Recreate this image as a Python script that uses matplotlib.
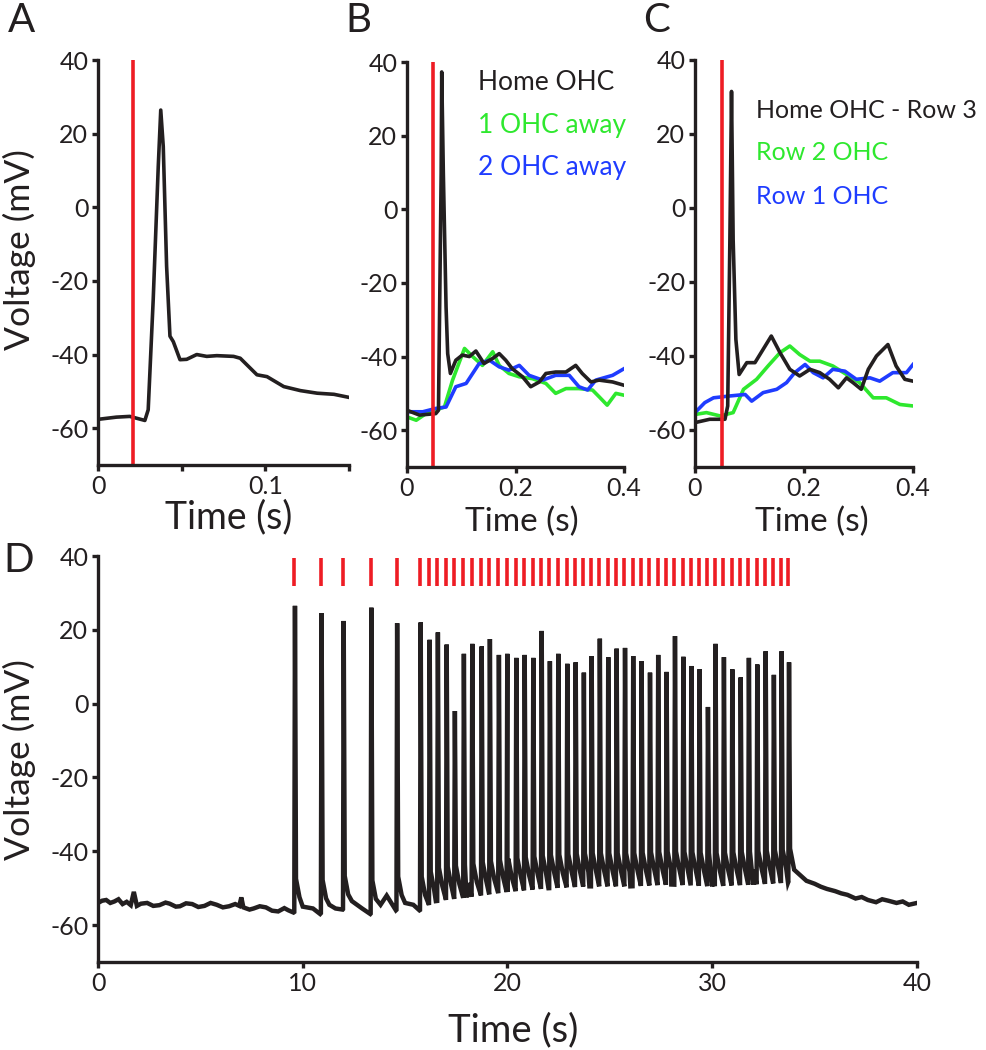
import numpy as np
import matplotlib
matplotlib.use("Agg")
import matplotlib.pyplot as plt

plt.rcParams['font.family'] = ['Lato', 'DejaVu Sans']

BLACK = '#231f20'
RED = '#ee1c24'
GREEN = '#2ee82e'
BLUE = '#1f3cff'

# ---------------- Panel A ----------------
a_t = [0.0, 0.011, 0.019, 0.028, 0.030, 0.033, 0.036, 0.0375, 0.039, 0.041, 0.043, 0.045,
       0.049, 0.053, 0.059, 0.065, 0.071, 0.081, 0.085, 0.095, 0.101, 0.111, 0.121, 0.131,
       0.141, 0.1496]
a_v = [-57.6, -57.0, -56.8, -57.9, -55.0, -25.0, 11.0, 26.4, 16.5, -16.0, -35.0, -36.5,
       -41.4, -41.3, -40.0, -40.5, -40.3, -40.5, -41.0, -45.5, -46.0, -48.7, -49.8, -50.5,
       -50.8, -51.6]
a_stim = 0.021

# ---------------- Panel B ----------------
b_home_t = [0.0, 0.023, 0.053, 0.058, 0.063, 0.064, 0.067, 0.072, 0.075, 0.080, 0.090, 0.102,
            0.115, 0.127, 0.142, 0.158, 0.170, 0.182, 0.194, 0.213, 0.228, 0.244, 0.256, 0.274,
            0.293, 0.311, 0.323, 0.339, 0.354, 0.379, 0.4]
b_home_v = [-54.6, -55.9, -55.5, -54.6, 9.7, 37.3, 9.7, -26.5, -39.2, -44.6, -41.0, -39.6,
            -40.0, -38.5, -41.9, -40.5, -39.2, -41.0, -43.3, -45.5, -48.2, -46.9, -44.6, -44.2,
            -44.2, -42.4, -44.6, -46.9, -46.4, -46.9, -47.8]
b_one_t = [0.0, 0.017, 0.035, 0.069, 0.084, 0.106, 0.121, 0.139, 0.158, 0.170, 0.188, 0.207,
           0.231, 0.256, 0.274, 0.293, 0.317, 0.342, 0.354, 0.369, 0.385, 0.4]
b_one_v = [-56.4, -57.3, -55.5, -53.7, -46.4, -37.8, -40.0, -42.4, -38.7, -42.4, -44.6, -45.5,
           -46.0, -47.3, -50.0, -48.7, -48.7, -49.1, -50.9, -53.2, -50.0, -50.5]
b_two_t = [0.0, 0.029, 0.053, 0.072, 0.090, 0.109, 0.133, 0.152, 0.170, 0.188, 0.207, 0.225,
           0.250, 0.274, 0.299, 0.317, 0.333, 0.348, 0.379, 0.4]
b_two_v = [-55.0, -55.0, -54.1, -53.7, -48.2, -47.3, -41.9, -41.0, -42.8, -43.7, -42.4, -45.1,
           -46.4, -45.1, -45.1, -48.2, -49.1, -46.4, -45.1, -43.3]
b_stim = 0.048
b_labels = ['Home OHC', '1 OHC away', '2 OHC away']

# ---------------- Panel C ----------------
c_home_t = [0.0, 0.027, 0.055, 0.060, 0.064, 0.067, 0.070, 0.075, 0.081, 0.095, 0.110, 0.125,
            0.140, 0.156, 0.174, 0.192, 0.211, 0.229, 0.247, 0.263, 0.278, 0.290, 0.305, 0.318,
            0.333, 0.354, 0.369, 0.385, 0.4]
c_home_v = [-58.0, -57.1, -57.1, -53.5, -8.6, 31.5, -8.6, -35.5, -45.0, -41.8, -41.8, -38.2,
            -34.6, -39.1, -43.6, -45.4, -43.6, -44.5, -46.3, -48.6, -45.9, -47.2, -49.0, -43.6,
            -40.0, -36.9, -42.7, -46.3, -46.8]
c_row2_t = [0.0, 0.021, 0.046, 0.070, 0.089, 0.113, 0.134, 0.156, 0.174, 0.192, 0.211, 0.229,
            0.253, 0.278, 0.302, 0.327, 0.351, 0.376, 0.4]
c_row2_v = [-55.8, -55.3, -56.2, -55.3, -49.0, -46.3, -42.7, -39.1, -37.3, -39.6, -41.4, -41.4,
            -42.7, -45.0, -47.2, -51.3, -51.3, -53.1, -53.5]
c_row1_t = [0.0, 0.018, 0.034, 0.064, 0.092, 0.104, 0.125, 0.150, 0.168, 0.183, 0.202, 0.217,
            0.235, 0.253, 0.275, 0.296, 0.321, 0.339, 0.363, 0.388, 0.4]
c_row1_v = [-55.3, -52.6, -51.3, -50.8, -50.4, -52.2, -49.9, -49.0, -47.2, -44.5, -42.3, -44.5,
            -45.9, -43.6, -44.1, -46.3, -45.9, -46.8, -44.5, -44.5, -42.3]
c_stim = 0.05
c_labels = ['Home OHC - Row 3', 'Row 2 OHC', 'Row 1 OHC']

# ---------------- Panel D ----------------
d_stim = [9.59, 10.89, 11.97, 13.32, 14.58,
          15.73, 16.17, 16.57, 17.00, 17.40, 17.84, 18.25, 18.71, 19.11, 19.55,
          19.96, 20.40, 20.81, 21.23, 21.64, 22.04, 22.45, 22.89, 23.30, 23.70,
          24.08, 24.48, 24.89, 25.30, 25.71, 26.11, 26.52, 26.93, 27.33, 27.74,
          28.15, 28.56, 28.95, 29.35, 29.76, 30.13, 30.54, 30.95, 31.36, 31.76,
          32.17, 32.58, 32.98, 33.36, 33.72]
d_peak = [26.5, 24.5, 22.4, 26.0, 21.8,
          22.0, 17.3, 19.3, 16.0, -2.0, 13.5, 16.2, 15.5, 17.5, 13.2,
          13.5, 12.4, 13.2, 12.4, 19.7, 11.5, 13.5, 10.8, 11.2, 8.4,
          12.9, 17.6, 12.6, 14.9, 15.1, 12.9, 11.5, 8.4, 13.2, 8.6,
          18.3, 12.7, 10.2, 9.3, -0.9, 16.2, 12.6, 9.3, 7.1, 12.4,
          10.6, 14.2, 7.8, 14.2, 11.2]
d_base_t = [0.0, 0.2, 0.4, 0.6, 0.8, 1.0, 1.2, 1.4, 1.6, 1.75, 1.9, 2.1, 2.4, 2.7, 3.0, 3.3,
            3.5, 3.8, 4.0, 4.3, 4.6, 4.9, 5.2, 5.5, 5.8, 6.1, 6.4, 6.7, 6.9, 7.0, 7.1, 7.4,
            7.6, 7.9, 8.2, 8.5, 8.8, 9.1, 9.3, 9.55,
            10.0, 10.5, 10.85, 11.3, 11.6, 11.95, 12.4, 12.9, 13.3, 13.8, 14.1, 14.55, 15.0,
            15.4, 15.7,
            16.5, 18.0, 20.0, 22.0, 24.0, 26.0, 28.0, 30.0, 32.0, 33.7,
            34.0, 34.3, 34.6, 35.0, 35.3, 35.6, 36.0, 36.3, 36.6, 37.0, 37.3, 37.6, 38.0, 38.3,
            38.6, 39.0, 39.3, 39.6, 40.0]
d_base_v = [-54.0, -53.4, -53.2, -54.0, -53.6, -53.0, -54.3, -53.7, -54.6, -51.0, -54.8, -54.2,
            -54.0, -54.8, -54.6, -53.9, -54.2, -55.0, -54.9, -54.1, -54.3, -55.1, -54.8, -54.0,
            -54.5, -55.2, -54.9, -54.3, -54.8, -52.5, -55.2, -55.8, -55.5, -54.9, -55.2, -56.1,
            -56.3, -55.4, -56.0, -56.6,
            -55.0, -55.5, -57.0, -54.5, -55.5, -55.8, -53.5, -55.5, -57.0, -54.5, -52.0, -56.0,
            -54.0, -54.5, -56.0,
            -53.5, -52.5, -51.0, -50.0, -49.5, -49.5, -49.0, -49.5, -49.0, -48.5,
            -45.0, -46.5, -48.0, -48.8, -49.6, -50.2, -50.8, -51.4, -51.8, -52.8, -52.4, -53.2,
            -53.8, -53.0, -53.4, -54.0, -53.6, -54.5, -54.0]
d_latency = 0.03
d_adp = [9.0, 4.0]   # after-potential above local baseline (mV) at +0.08 s and +0.25 s


def style_axes(ax, xlim, ylim, xticks, xlabels, yticks):
    for s in ['top', 'right']:
        ax.spines[s].set_visible(False)
    for s in ['left', 'bottom']:
        ax.spines[s].set_linewidth(2.4)
        ax.spines[s].set_color(BLACK)
        ax.spines[s].set_capstyle('projecting')
    ax.set_xlim(*xlim)
    ax.set_ylim(*ylim)
    ax.set_xticks(xticks)
    ax.set_xticklabels(xlabels)
    ax.set_yticks(yticks)
    ax.set_yticklabels([str(v) for v in yticks])
    ax.tick_params(direction='out', length=4, width=2.4, color=BLACK,
                   labelsize=18, labelcolor=BLACK, pad=3)


fig = plt.figure(figsize=(9.86, 10.5), dpi=100)
W, H = 986, 1050


def axes_px(l, t, r, b):
    return fig.add_axes([l / W, 1 - b / H, (r - l) / W, (b - t) / H])


def ftext(x, y, s, **kw):
    kw.setdefault('color', BLACK)
    kw.setdefault('ha', 'center')
    kw.setdefault('va', 'center')
    return fig.text(x / W, 1 - y / H, s, **kw)


yt = [40, 20, 0, -20, -40, -60]
LW = 2.6

# A
axA = axes_px(98, 60, 349, 465)
axA.plot(a_t, a_v, color=BLACK, lw=LW, solid_joinstyle='round')
axA.axvline(a_stim, color=RED, lw=2.6)
style_axes(axA, (0, 0.15), (-70, 40), [0, 0.05, 0.1, 0.15], ['0', '', '0.1', ''], yt)
ftext(19, 250, 'Voltage (mV)', fontsize=25.5, rotation=90)
ftext(229, 517, 'Time (s)', fontsize=27)

# B
axB = axes_px(407, 62, 624, 467)
axB.plot(b_one_t, b_one_v, color=GREEN, lw=LW)
axB.plot(b_two_t, b_two_v, color=BLUE, lw=LW)
axB.plot(b_home_t, b_home_v, color=BLACK, lw=LW)
axB.axvline(b_stim, color=RED, lw=2.6)
style_axes(axB, (0, 0.4), (-70, 40), [0, 0.2, 0.4], ['0', '0.2', '0.4'], yt)
ftext(522, 522, 'Time (s)', fontsize=24)
for lab, col, y in zip(b_labels, [BLACK, GREEN, BLUE], [83, 125, 168]):
    ftext(478, y, lab, fontsize=19, color=col, ha='left')

# C
axC = axes_px(695, 60, 913, 467)
axC.plot(c_row2_t, c_row2_v, color=GREEN, lw=LW)
axC.plot(c_row1_t, c_row1_v, color=BLUE, lw=LW)
axC.plot(c_home_t, c_home_v, color=BLACK, lw=LW)
axC.axvline(c_stim, color=RED, lw=2.6)
style_axes(axC, (0, 0.4), (-70, 40), [0, 0.2, 0.4], ['0', '0.2', '0.4'], yt)
ftext(812, 522, 'Time (s)', fontsize=24)
for lab, col, y in zip(c_labels, [BLACK, GREEN, BLUE], [110, 152, 197]):
    ftext(756, y, lab, fontsize=18, color=col, ha='left')

# D
axD = axes_px(98, 556, 917, 962)
pts = list(zip(d_base_t, d_base_v))
for ts, pk in zip(d_stim, d_peak):
    b = float(np.interp(ts, d_base_t, d_base_v))
    pts += [(ts - 0.004, b), (ts + d_latency, pk), (ts + 0.08, b + d_adp[0]),
            (ts + 0.25, b + d_adp[1])]
pts.sort(key=lambda p: p[0])
dt = [p[0] for p in pts]
dv = [p[1] for p in pts]
axD.plot(dt, dv, color=BLACK, lw=3.2, solid_joinstyle='miter')
axD.vlines(d_stim, 32, 39.5, color=RED, lw=2.6)
style_axes(axD, (0, 40), (-70, 40), [0, 10, 20, 30, 40], ['0', '10', '20', '30', '40'], yt)
ftext(19, 760, 'Voltage (mV)', fontsize=25.5, rotation=90)
ftext(513, 1030, 'Time (s)', fontsize=27.5)

# Panel letters
for lab, x, y in [('A', 22, 20), ('B', 358, 20), ('C', 657, 20), ('D', 19, 560)]:
    ftext(x, y, lab, fontsize=29)

fig.savefig('out.png', dpi=100)
